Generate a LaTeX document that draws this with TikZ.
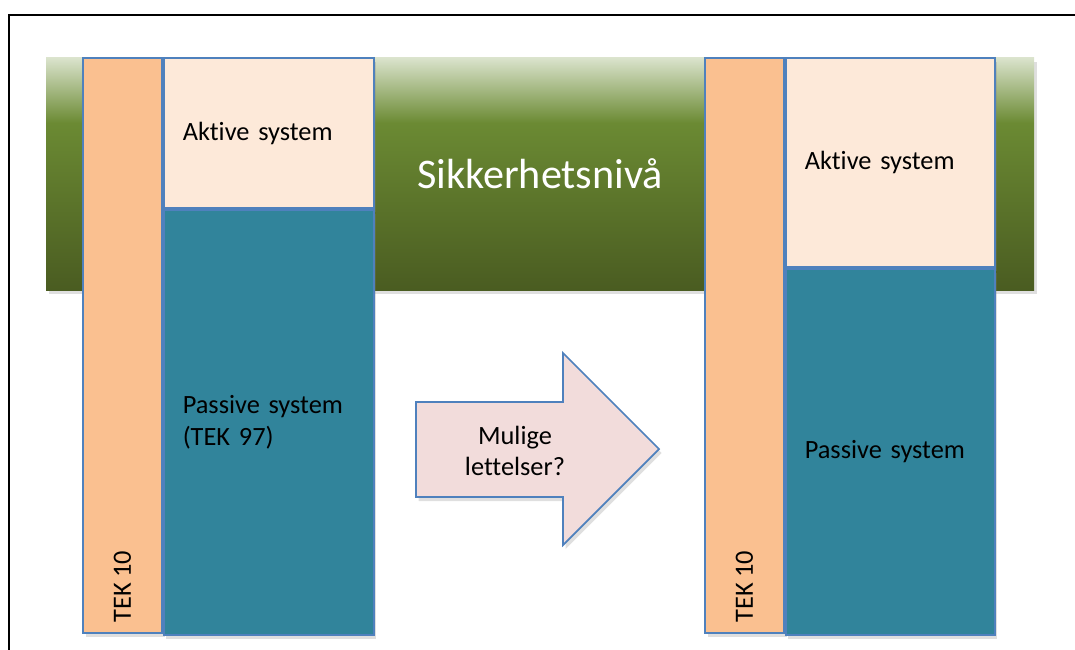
\documentclass[tikz,border=0pt]{standalone}
\usepackage{fontspec}
\setmainfont{Carlito}[Ligatures=NoCommon, WordSpace=0.9]
\usepackage{tikz}
\usetikzlibrary{positioning,shadows}

\definecolor{tekpeach}{HTML}{FAC090}
\definecolor{aktivfill}{HTML}{FDE9D9}
\definecolor{passivfill}{HTML}{31849B}
\definecolor{kantblaa}{HTML}{4F81BD}
\definecolor{pilfill}{HTML}{F2DCDB}
\definecolor{bandtop}{HTML}{DAE3CC}
\definecolor{bandmid}{HTML}{6B8A33}
\definecolor{bandbot}{HTML}{4A5C21}
\pgfdeclareverticalshading{bandshade}{100bp}{color(0bp)=(bandbot); color(25bp)=(bandbot); color(61bp)=(bandmid); color(75bp)=(bandtop); color(100bp)=(bandtop)}

\tikzset{
	skygge/.style={drop shadow={opacity=0.25, shadow xshift=0.05cm, shadow yshift=-0.08cm}},
	band/.style={rectangle, minimum width=19.76cm, minimum height=4.64cm, inner sep=0pt, shading=bandshade, text=white, font=\fontsize{24}{28}\selectfont},
	tekboks/.style={rectangle, draw=kantblaa, line width=1pt, fill=tekpeach, minimum width=1.58cm, minimum height=11.5cm, inner sep=0pt},
	systemboks/.style={rectangle, draw=kantblaa, line width=1pt, inner ysep=0pt, inner xsep=0.38cm, align=left, font=\fontsize{15}{18}\selectfont},
	pil/.style={draw=kantblaa, line width=1pt, fill=pilfill},
	tekst/.style={font=\fontsize{15}{18}\selectfont, align=center}
}

\begin{document}
\begin{tikzpicture}

	\useasboundingbox (0,0) rectangle (21.5,12.98);
	\draw[line width=1.1pt] (0.18,-1) rectangle (22,12.68);

	\node[band, skygge] (sikkerhet) at (10.8,9.5) {Sikkerhetsnivå};

	% dagens losning
	\node[tekboks, skygge] (TEK1) at (2.45,6.07) {};
	\node[systemboks, skygge, fill=aktivfill, text width=3.44cm, minimum height=3cm, anchor=north west] (Aktiv1) at (TEK1.north east) {Aktive system};
	\node[systemboks, skygge, fill=passivfill, text width=3.44cm, minimum height=8.5cm, below=0pt of Aktiv1] (Passiv1) {Passive system\\(TEK 97)};
	\node[tekst, rotate=90, anchor=west, inner sep=0pt] (TEK1tekst) at ([yshift=0.22cm]TEK1.south) {TEK 10};

	% pil
	\draw[pil, skygge] (8.32,4.94) -- (11.26,4.94) -- (11.26,5.92) -- (13.18,4.0) -- (11.26,2.08) -- (11.26,3.04) -- (8.32,3.04) -- cycle;
	\node[tekst] (lettelser) at (10.3,3.96) {Mulige\\lettelser?};

	% ny losning
	\node[tekboks, skygge] (TEK2) at (14.89,6.07) {};
	\node[systemboks, skygge, fill=aktivfill, text width=3.42cm, minimum height=4.18cm, anchor=north west] (Aktiv2) at (TEK2.north east) {Aktive system};
	\node[systemboks, skygge, fill=passivfill, text width=3.42cm, minimum height=7.32cm, below=0pt of Aktiv2] (Passiv2) {Passive system};
	\node[tekst, rotate=90, anchor=west, inner sep=0pt] (TEK2tekst) at ([yshift=0.22cm]TEK2.south) {TEK 10};

\end{tikzpicture}
\end{document}
